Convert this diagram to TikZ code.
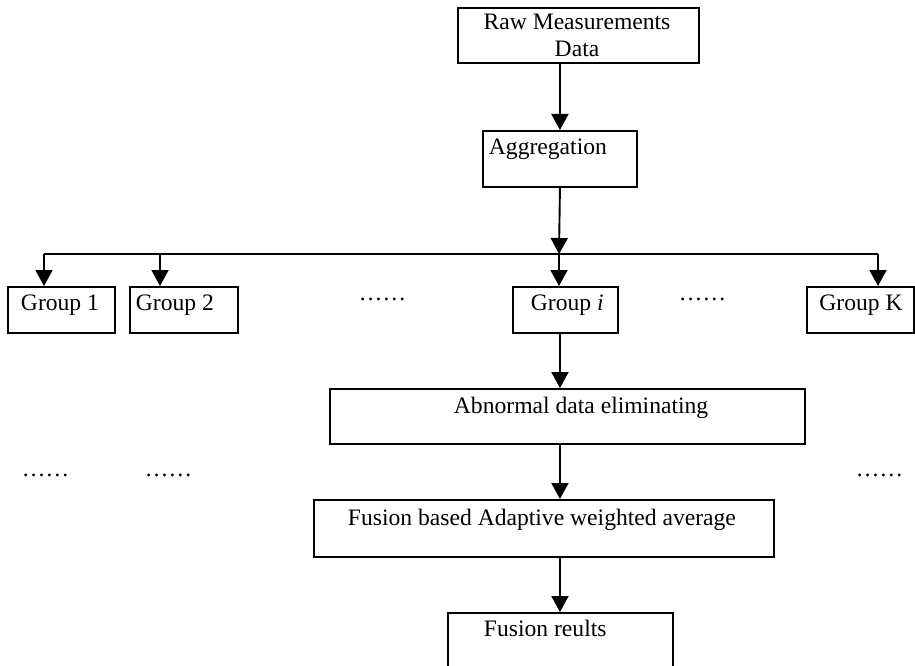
\documentclass[tikz,border=0pt]{standalone}
\usepackage{fontspec}
\setmainfont{Liberation Serif}
\usetikzlibrary{arrows.meta}
\begin{document}
\begin{tikzpicture}[x=1pt,y=-1pt,line width=1.9pt,
  box/.style={draw, rectangle, inner sep=0pt, anchor=north west},
  txt/.style={font=\fontsize{23.6}{28}\selectfont, inner sep=0pt},
  arr/.style={-{Triangle[width=17pt,length=16pt]}}]
\clip (0,0) rectangle (915,666);
% boxes
\node[box, minimum width=241pt, minimum height=55pt] (raw) at (457,7) {};
\node[box, minimum width=154pt, minimum height=56pt] (agg) at (482,130) {};
\node[box, minimum width=107pt, minimum height=46pt] (g1) at (7,286) {};
\node[box, minimum width=108pt, minimum height=46pt] (g2) at (129,286) {};
\node[box, minimum width=105pt, minimum height=46pt] (gi) at (512,286) {};
\node[box, minimum width=107pt, minimum height=46pt] (gk) at (806,286) {};
\node[box, minimum width=475pt, minimum height=55pt] (ab) at (329,388) {};
\node[box, minimum width=460pt, minimum height=57pt] (fu) at (313,499) {};
\node[box, minimum width=225pt, minimum height=90pt] (res) at (447,612) {};
% texts
\node[txt, anchor=base] (t1) at (577,30) {Raw Measurements};
\node[txt, anchor=base] (t2) at (577,57) {Data};
\node[txt, anchor=base west] (t3) at (488,154) {Aggregation};
\node[txt, anchor=base] (t4) at (60,310) {Group 1};
\node[txt, anchor=base west] (t5) at (135,310) {Group 2};
\node[txt, anchor=base west] (t6) at (530,310) {Group \textit{i}};
\node[txt, anchor=base] (t7) at (861,310) {Group K};
\node[txt, anchor=base west] (t8) at (453,413) {Abnormal data eliminating};
\node[txt, anchor=base west] (t9) at (347,525) {Fusion based Adaptive weighted average};
\node[txt, anchor=base west] (t10) at (483,636) {Fusion reults};
% dots
\node[txt, anchor=base west] (d1) at (358,300) {……};
\node[txt, anchor=base west] (d2) at (678,300) {……};
\node[txt, anchor=base west] (d3) at (21,476) {……};
\node[txt, anchor=base west] (d4) at (144,476) {……};
\node[txt, anchor=base west] (d5) at (855,476) {……};
% bus
\coordinate (busL) at (44,254);
\coordinate (bus2) at (160,254);
\coordinate (busM) at (559,254);
\coordinate (busR) at (878,254);
% connectors
\draw[arr] (raw.south -| agg.north) -- (agg.north);
\draw[arr] (agg.south) -- (busM);
\draw (busL) -- (busR);
\draw[arr] (busL) -- (busL |- g1.north);
\draw[arr] (bus2) -- (bus2 |- g2.north);
\draw[arr] (busM) -- (busM |- gi.north);
\draw[arr] (busR) -- (busR |- gk.north);
\draw[arr] (gi.south -| agg.south) -- (ab.north -| agg.south);
\draw[arr] (ab.south -| agg.south) -- (fu.north -| agg.south);
\draw[arr] (fu.south -| agg.south) -- (res.north -| agg.south);
\end{tikzpicture}
\end{document}
